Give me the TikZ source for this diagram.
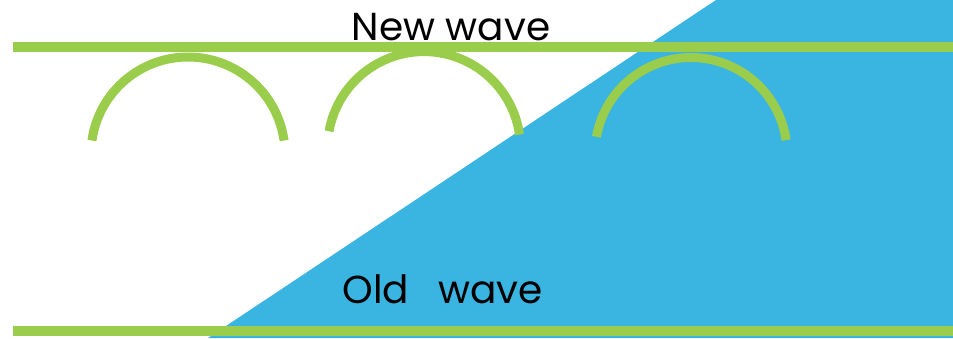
\documentclass[tikz,border=0pt]{standalone}
\usepackage{fontspec}
\setmainfont{Poppins}
\definecolor{seablue}{HTML}{3AB4E0}
\definecolor{wavegreen}{HTML}{9ACD4C}
\tikzset{
  waveline/.style={wavegreen, line width=10pt},
  crest/.style={wavegreen, line width=9pt},
  wavelabel/.style={font=\fontsize{39}{45}\selectfont, inner sep=0pt, anchor=base}
}
\begin{document}
\begin{tikzpicture}[x=1pt,y=-1pt]
    % Picture frame
    \useasboundingbox (0,0) rectangle (953,338);

    % Blue region
    \fill[seablue] (716,0) -- (953,0) -- (953,338) -- (208,338) -- cycle;

    % Wave fronts
    \draw[waveline] (13,47) -- (953,47);
    \draw[waveline] (13,331) -- (953,331);

    % Wavelets
    \draw[crest] ([shift={(188:97)}]188,154) arc (188:352:97);
    \draw[crest] ([shift={(190:96.4)}]424,148) arc (190:352:96.4);
    \draw[crest] ([shift={(190:96)}]691,153.5) arc (190:352:96);

    % Labels
    \node[wavelabel] (newwave) at (451,40) {New wave};
    \node[wavelabel] (oldwave) at (442.5,303) {Old\hspace{0.75em}wave};
\end{tikzpicture}
\end{document}
